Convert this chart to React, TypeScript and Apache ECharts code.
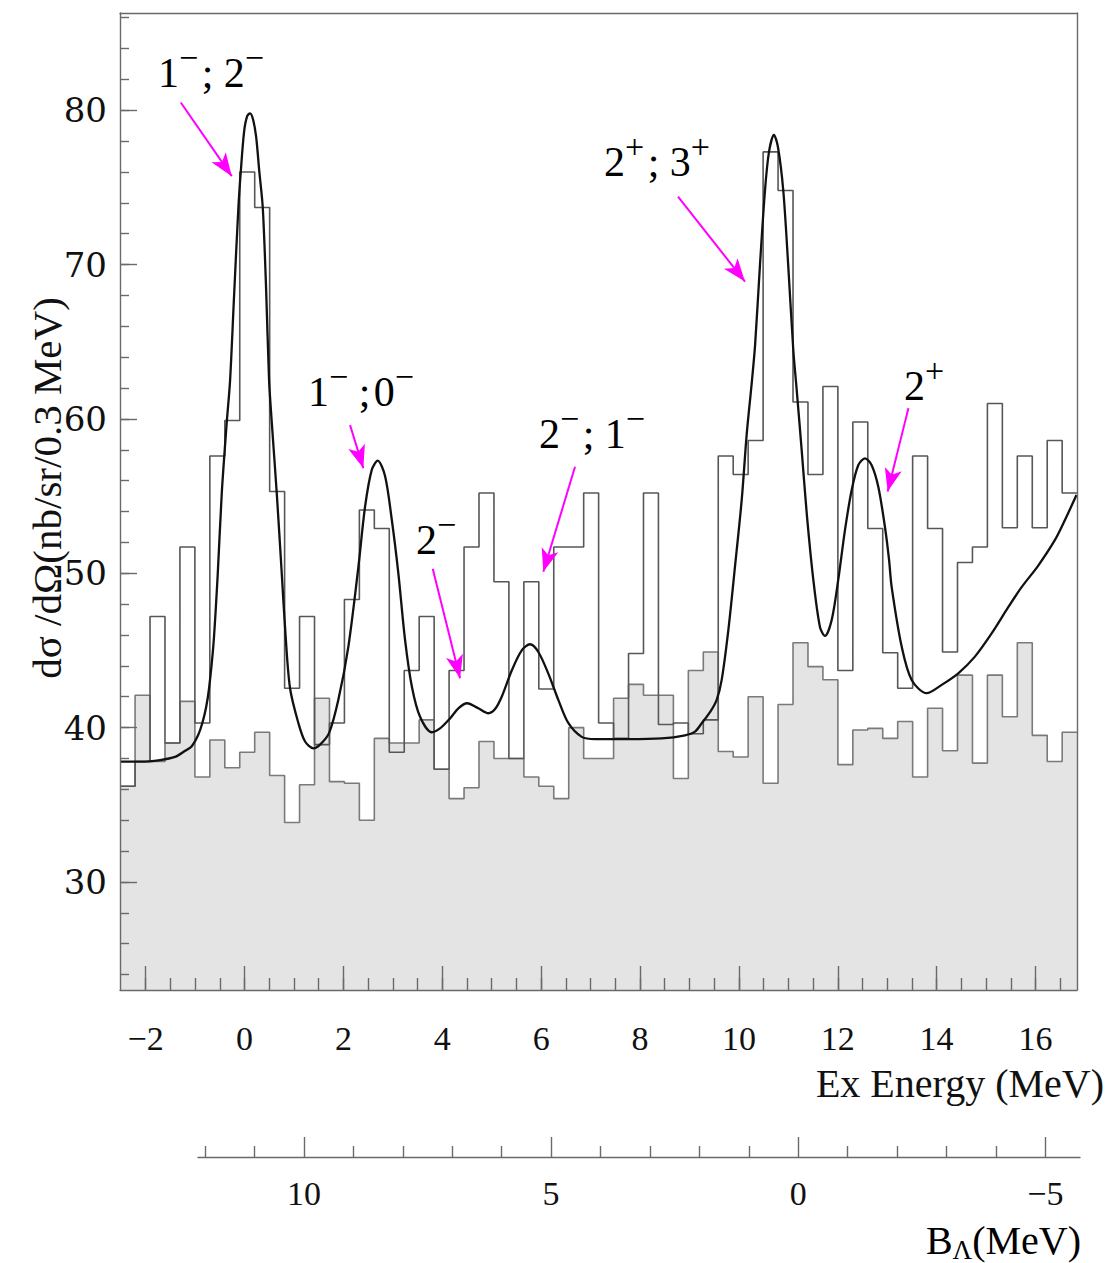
import React, { useEffect, useRef } from "react";
import * as echarts from "echarts";

// ---- axis ranges (Ex in MeV, cross section in nb/sr/0.3 MeV) ----
const X_MIN = -2.52;
const X_MAX = 16.84;
const Y_MIN = 23.0;
const Y_MAX = 86.3;

// ---- histogram binning ----
const BIN_FIRST_EDGE = -2.5175;
const BIN_WIDTH = 0.3025;

// open histogram (measured spectrum), one value per bin
const spectrumCounts = [
  36.2, 37.8, 47.2, 39.0, 51.7, 40.3, 57.6, 59.9, 76.0, 73.7, 55.3, 42.55, 47.2, 38.9, 40.3, 48.3,
  54.1, 52.9, 38.4, 43.7, 47.2, 37.3, 43.7, 51.7, 55.2, 49.45, 38.0, 49.45, 42.5, 51.7, 51.7, 55.2,
  40.3, 39.3, 44.8, 55.2, 40.2, 40.3, 39.6, 40.5, 57.6, 56.4, 58.6, 77.3, 74.8, 61.1, 56.4, 62.1,
  43.7, 59.8, 52.9, 44.85, 42.55, 57.6, 52.9, 44.9, 50.7, 51.7, 61.0, 52.95, 57.6, 52.95, 58.6, 55.2,
];

// shaded histogram (accidental background), one value per bin
const accidentalCounts = [
  36.2, 42.1, 37.8, 39.0, 41.7, 36.8, 39.2, 37.4, 38.4, 39.7, 36.9, 33.85, 36.3, 41.9, 36.5, 36.4,
  34.0, 39.3, 39.0, 39.0, 40.5, 37.3, 35.4, 36.1, 39.1, 38.0, 38.0, 36.8, 36.2, 35.4, 40.0, 38.0,
  38.0, 41.9, 42.8, 42.1, 42.1, 36.7, 43.7, 44.9, 38.45, 38.1, 42.0, 36.4, 41.5, 45.5, 43.95, 43.1,
  37.6, 39.85, 39.95, 39.3, 40.4, 36.8, 41.25, 38.5, 43.4, 37.7, 43.4, 40.7, 45.5, 39.5, 37.8, 39.7,
];

// fitted curve
const fitEx = [
  -2.518, -2.114, -1.709, -1.406, -1.203, -1.068, -0.941, -0.854, -0.779, -0.718, -0.627, -0.542,
  -0.461, -0.36, -0.293, -0.212, -0.125, -0.077, -0.01, 0.051, 0.111, 0.172, 0.233, 0.299, 0.368,
  0.435, 0.496, 0.55, 0.651, 0.752, 0.829, 0.92, 1.088, 1.224, 1.392, 1.527, 1.709, 1.897, 2.1,
  2.302, 2.437, 2.573, 2.694, 2.842, 2.977, 3.111, 3.246, 3.382, 3.55, 3.786, 3.954, 4.157, 4.325,
  4.501, 4.729, 4.931, 5.067, 5.202, 5.405, 5.607, 5.775, 5.943, 6.145, 6.347, 6.549, 6.82, 7.09,
  7.763, 8.438, 8.91, 9.112, 9.248, 9.416, 9.551, 9.652, 9.786, 9.921, 10.057, 10.158, 10.259,
  10.328, 10.427, 10.528, 10.609, 10.71, 10.791, 10.898, 10.999, 11.1, 11.169, 11.27, 11.372,
  11.505, 11.641, 11.742, 11.877, 12.011, 12.146, 12.282, 12.415, 12.551, 12.686, 12.82, 12.955,
  13.037, 13.091, 13.293, 13.495, 13.799, 14.102, 14.438, 14.775, 15.113, 15.449, 15.72, 16.056,
  16.394, 16.596, 16.829,
];
const fitSigma = [
  37.8, 37.8, 37.9, 38.1, 38.5, 38.8, 39.5, 40.3, 41.3, 42.55, 45.5, 50.0,
  55.2, 59.8, 62.5, 68.0, 73.7, 76.0, 78.6, 79.6, 79.8, 79.4, 78.3, 76.0, 73.7,
  68.5, 62.5, 59.8, 55.2, 50.0, 46.0, 42.55, 40.3, 39.1, 38.66, 38.9, 39.64, 41.8, 45.25,
  50.4, 54.3, 56.7, 57.3, 56.3, 53.5, 50.0, 45.7, 42.7, 40.7, 39.7, 39.95, 40.6, 41.25,
  41.58, 41.25, 40.93, 41.2, 42.0, 43.7, 45.0, 45.4, 44.9, 43.5, 41.8, 40.3, 39.4, 39.25,
  39.25, 39.3, 39.5, 39.74, 40.28, 41.0, 41.8, 43.09, 46.3, 50.43, 54.75, 59.0, 62.3,
  64.8, 70.0, 74.8, 77.3, 78.4, 77.6, 74.8, 69.9, 64.5, 61.9, 58.0, 53.9,
  49.6, 46.5, 45.94, 46.97, 49.6, 52.8, 55.4, 57.0, 57.45, 57.0, 55.6, 53.0,
  50.9, 49.1, 45.25, 43.09, 42.23, 42.77, 43.52, 44.6, 46.1, 47.8, 49.1, 50.5,
  52.16, 53.45, 55.07,
];

// arrows (tail -> head), in data units
const arrowFromEx = [-1.29, 2.134, 3.807, 6.685, 8.768, 13.43];
const arrowFromY = [80.5, 59.6, 50.3, 56.9, 74.4, 60.7];
const arrowToEx = [-0.259, 2.403, 4.359, 6.044, 10.123, 13.01];
const arrowToY = [75.73, 56.8, 43.2, 50.1, 68.9, 55.3];

// ticks
const exMajorTicks = [-2, 0, 2, 4, 6, 8, 10, 12, 14, 16];
const exMinorTicks = [
  -2, -1.5, -1, -0.5, 0, 0.5, 1, 1.5, 2, 2.5, 3, 3.5, 4, 4.5, 5, 5.5, 6, 6.5, 7, 7.5, 8, 8.5, 9,
  9.5, 10, 10.5, 11, 11.5, 12, 12.5, 13, 13.5, 14, 14.5, 15, 15.5, 16, 16.5,
];
const yMajorTicks = [30, 40, 50, 60, 70, 80];
const yMinorTicks = [
  24, 26, 28, 30, 32, 34, 36, 38, 40, 42, 44, 46, 48, 50, 52, 54, 56, 58, 60, 62, 64, 66, 68, 70,
  72, 74, 76, 78, 80, 82, 84, 86,
];
const B_LAMBDA_OFFSET = 11.2; // B_Lambda = offset - Ex
const bLambdaMajorTicks = [10, 5, 0, -5];
const bLambdaMinorTicks = [12, 11, 9, 8, 7, 6, 4, 3, 2, 1, -1, -2, -3, -4];

// state labels
const stateLabels = [
  { text: "{d|1}{s|\u2212}{d|\u200A; 2}{s|\u2212}", x: 158, y: 73 },
  { text: "{d|1}{s|\u2212}{d| ;\u200A0}{s|\u2212}", x: 308, y: 392 },
  { text: "{d|2}{s|\u2212}", x: 416, y: 540 },
  { text: "{d|2}{s|\u2212}{d|\u200A; 1}{s|\u2212}", x: 539, y: 434 },
  { text: "{d|2}{s|+}{d|\u200A; 3}{s|+}", x: 604, y: 162 },
  { text: "{d|2}{s|+}", x: 904, y: 386 },
];

export default function App() {
  const ref = useRef<HTMLDivElement>(null);

  useEffect(() => {
    if (!ref.current) return;
    const chart = echarts.init(ref.current, null, { renderer: "svg" });

    const hist = (vals: number[]) => {
      const pts: number[][] = [];
      vals.forEach((v, i) => {
        const x0 = BIN_FIRST_EDGE + i * BIN_WIDTH;
        pts.push([x0, v], [x0 + BIN_WIDTH, v]);
      });
      return pts;
    };
    const fit = fitEx.map((x, i) => [x, fitSigma[i]]);
    const arrows = arrowFromEx.map((x, i) => [
      { coord: [x, arrowFromY[i]] },
      { coord: [arrowToEx[i], arrowToY[i]] },
    ]);

    const serif = "Liberation Serif";
    const wideSerif = "DejaVu Serif";
    const axisColor = "#6a6a6a";
    const tickStyle = { color: axisColor, width: 1.4 };
    const minus = (v: number) => String(v).replace("-", "\u2212");

    const bLeftEx = X_MIN + ((198 - 120) / 957) * (X_MAX - X_MIN);
    const bRightEx = X_MIN + ((1080 - 120) / 957) * (X_MAX - X_MIN);
    const bMax = B_LAMBDA_OFFSET - bLeftEx;
    const bMin = B_LAMBDA_OFFSET - bRightEx;

    const labelRich = {
      d: { fontFamily: serif, fontSize: 42, lineHeight: 66, color: "#111" },
      s: { fontFamily: serif, fontSize: 34, lineHeight: 16, verticalAlign: "top", color: "#111" },
    };

    const hiddenLine = { show: false, onZero: false };
    const shownLine = { show: true, onZero: false, lineStyle: tickStyle };
    const noTicks = { show: false };
    const noLabels = { show: false };
    const noSplit = { show: false };

    chart.setOption({
      animation: false,
      grid: [
        { left: 120, top: 13, width: 957, height: 977, show: false },
        { left: 198, top: 1156, width: 882, height: 1, show: false },
      ],
      xAxis: [
        {
          gridIndex: 0, type: "value", min: X_MIN, max: X_MAX, position: "bottom", z: 10,
          axisLine: shownLine, splitLine: noSplit,
          axisTick: { show: true, inside: true, length: 24, customValues: exMajorTicks, lineStyle: tickStyle },
          axisLabel: {
            show: true, customValues: exMajorTicks, formatter: minus,
            fontFamily: serif, fontSize: 34, color: "#111", margin: 31,
          },
        },
        {
          gridIndex: 0, type: "value", min: X_MIN, max: X_MAX, position: "bottom", z: 10,
          axisLine: hiddenLine, splitLine: noSplit,
          axisTick: { show: true, inside: true, length: 12, customValues: exMinorTicks, lineStyle: tickStyle },
          axisLabel: noLabels,
        },
        {
          gridIndex: 0, type: "value", min: X_MIN, max: X_MAX, position: "top", z: 10,
          axisLine: shownLine, splitLine: noSplit, axisTick: noTicks, axisLabel: noLabels,
        },
        {
          gridIndex: 1, type: "value", inverse: true, min: bMin, max: bMax, position: "bottom", z: 10,
          axisLine: shownLine, splitLine: noSplit,
          axisTick: { show: true, inside: true, length: 20, customValues: bLambdaMajorTicks, lineStyle: tickStyle },
          axisLabel: {
            show: true, customValues: bLambdaMajorTicks, formatter: minus,
            fontFamily: serif, fontSize: 34, color: "#111", margin: 19,
          },
        },
        {
          gridIndex: 1, type: "value", inverse: true, min: bMin, max: bMax, position: "bottom", z: 10,
          axisLine: hiddenLine, splitLine: noSplit,
          axisTick: { show: true, inside: true, length: 11, customValues: bLambdaMinorTicks, lineStyle: tickStyle },
          axisLabel: noLabels,
        },
      ],
      yAxis: [
        {
          gridIndex: 0, type: "value", min: Y_MIN, max: Y_MAX, position: "left", z: 10,
          axisLine: shownLine, splitLine: noSplit,
          axisTick: { show: true, inside: true, length: 17, customValues: yMajorTicks, lineStyle: tickStyle },
          axisLabel: {
            show: true, customValues: yMajorTicks,
            fontFamily: wideSerif, fontSize: 34, color: "#111", margin: 13,
          },
        },
        {
          gridIndex: 0, type: "value", min: Y_MIN, max: Y_MAX, position: "left", z: 10,
          axisLine: hiddenLine, splitLine: noSplit,
          axisTick: { show: true, inside: true, length: 9, customValues: yMinorTicks, lineStyle: tickStyle },
          axisLabel: noLabels,
        },
        {
          gridIndex: 0, type: "value", min: Y_MIN, max: Y_MAX, position: "right", z: 10,
          axisLine: shownLine, splitLine: noSplit, axisTick: noTicks, axisLabel: noLabels,
        },
        { gridIndex: 1, type: "value", min: 0, max: 1, show: false },
      ],
      series: [
        {
          name: "accidental",
          type: "line",
          data: hist(accidentalCounts),
          showSymbol: false,
          lineStyle: { color: "#7a7a7a", width: 1.6 },
          areaStyle: { color: "#e4e4e4", origin: "start", opacity: 1 },
          z: 2,
        },
        {
          name: "spectrum",
          type: "line",
          data: hist(spectrumCounts),
          showSymbol: false,
          lineStyle: { color: "#575757", width: 1.6 },
          z: 3,
        },
        {
          name: "fit",
          type: "line",
          data: fit,
          showSymbol: false,
          smooth: 0.3,
          lineStyle: { color: "#111", width: 2.3 },
          z: 4,
          markLine: {
            silent: true,
            symbol: ["none", "arrow"],
            symbolSize: [13, 23],
            label: { show: false },
            lineStyle: { color: "#ff00ff", width: 2, type: "solid" },
            data: arrows,
          },
        },
      ],
      graphic: [
        ...stateLabels.map((l) => ({
          type: "text",
          x: l.x,
          y: l.y,
          style: { text: l.text, rich: labelRich, align: "left", verticalAlign: "middle" },
          z: 10,
        })),
        {
          type: "text",
          x: 47,
          y: 488,
          rotation: Math.PI / 2,
          style: {
            text: "d\u03C3 /d\u03A9(nb/sr/0.3 MeV)",
            fontFamily: serif, fontSize: 41,
            fill: "#111",
            align: "center", verticalAlign: "middle",
          },
        },
        {
          type: "text",
          x: 1104,
          y: 1083,
          style: {
            text: "Ex Energy (MeV)",
            fontFamily: serif, fontSize: 40,
            fill: "#111",
            align: "right", verticalAlign: "middle",
          },
        },
        {
          type: "text",
          x: 1081,
          y: 1240,
          style: {
            text: "{n|B}{sub|\u039B}{n|(MeV)}",
            align: "right", verticalAlign: "middle",
            rich: {
              n: { fontFamily: serif, fontSize: 40, lineHeight: 46, color: "#111" },
              sub: { fontFamily: serif, fontSize: 27, lineHeight: 18, verticalAlign: "bottom", color: "#111" },
            },
          },
        },
      ],
    });

    return () => chart.dispose();
  }, []);

  return (
    <div
      ref={ref}
      style={{ position: "absolute", left: 0, top: 0, width: 1115, height: 1263, background: "#fff" }}
    />
  );
}
